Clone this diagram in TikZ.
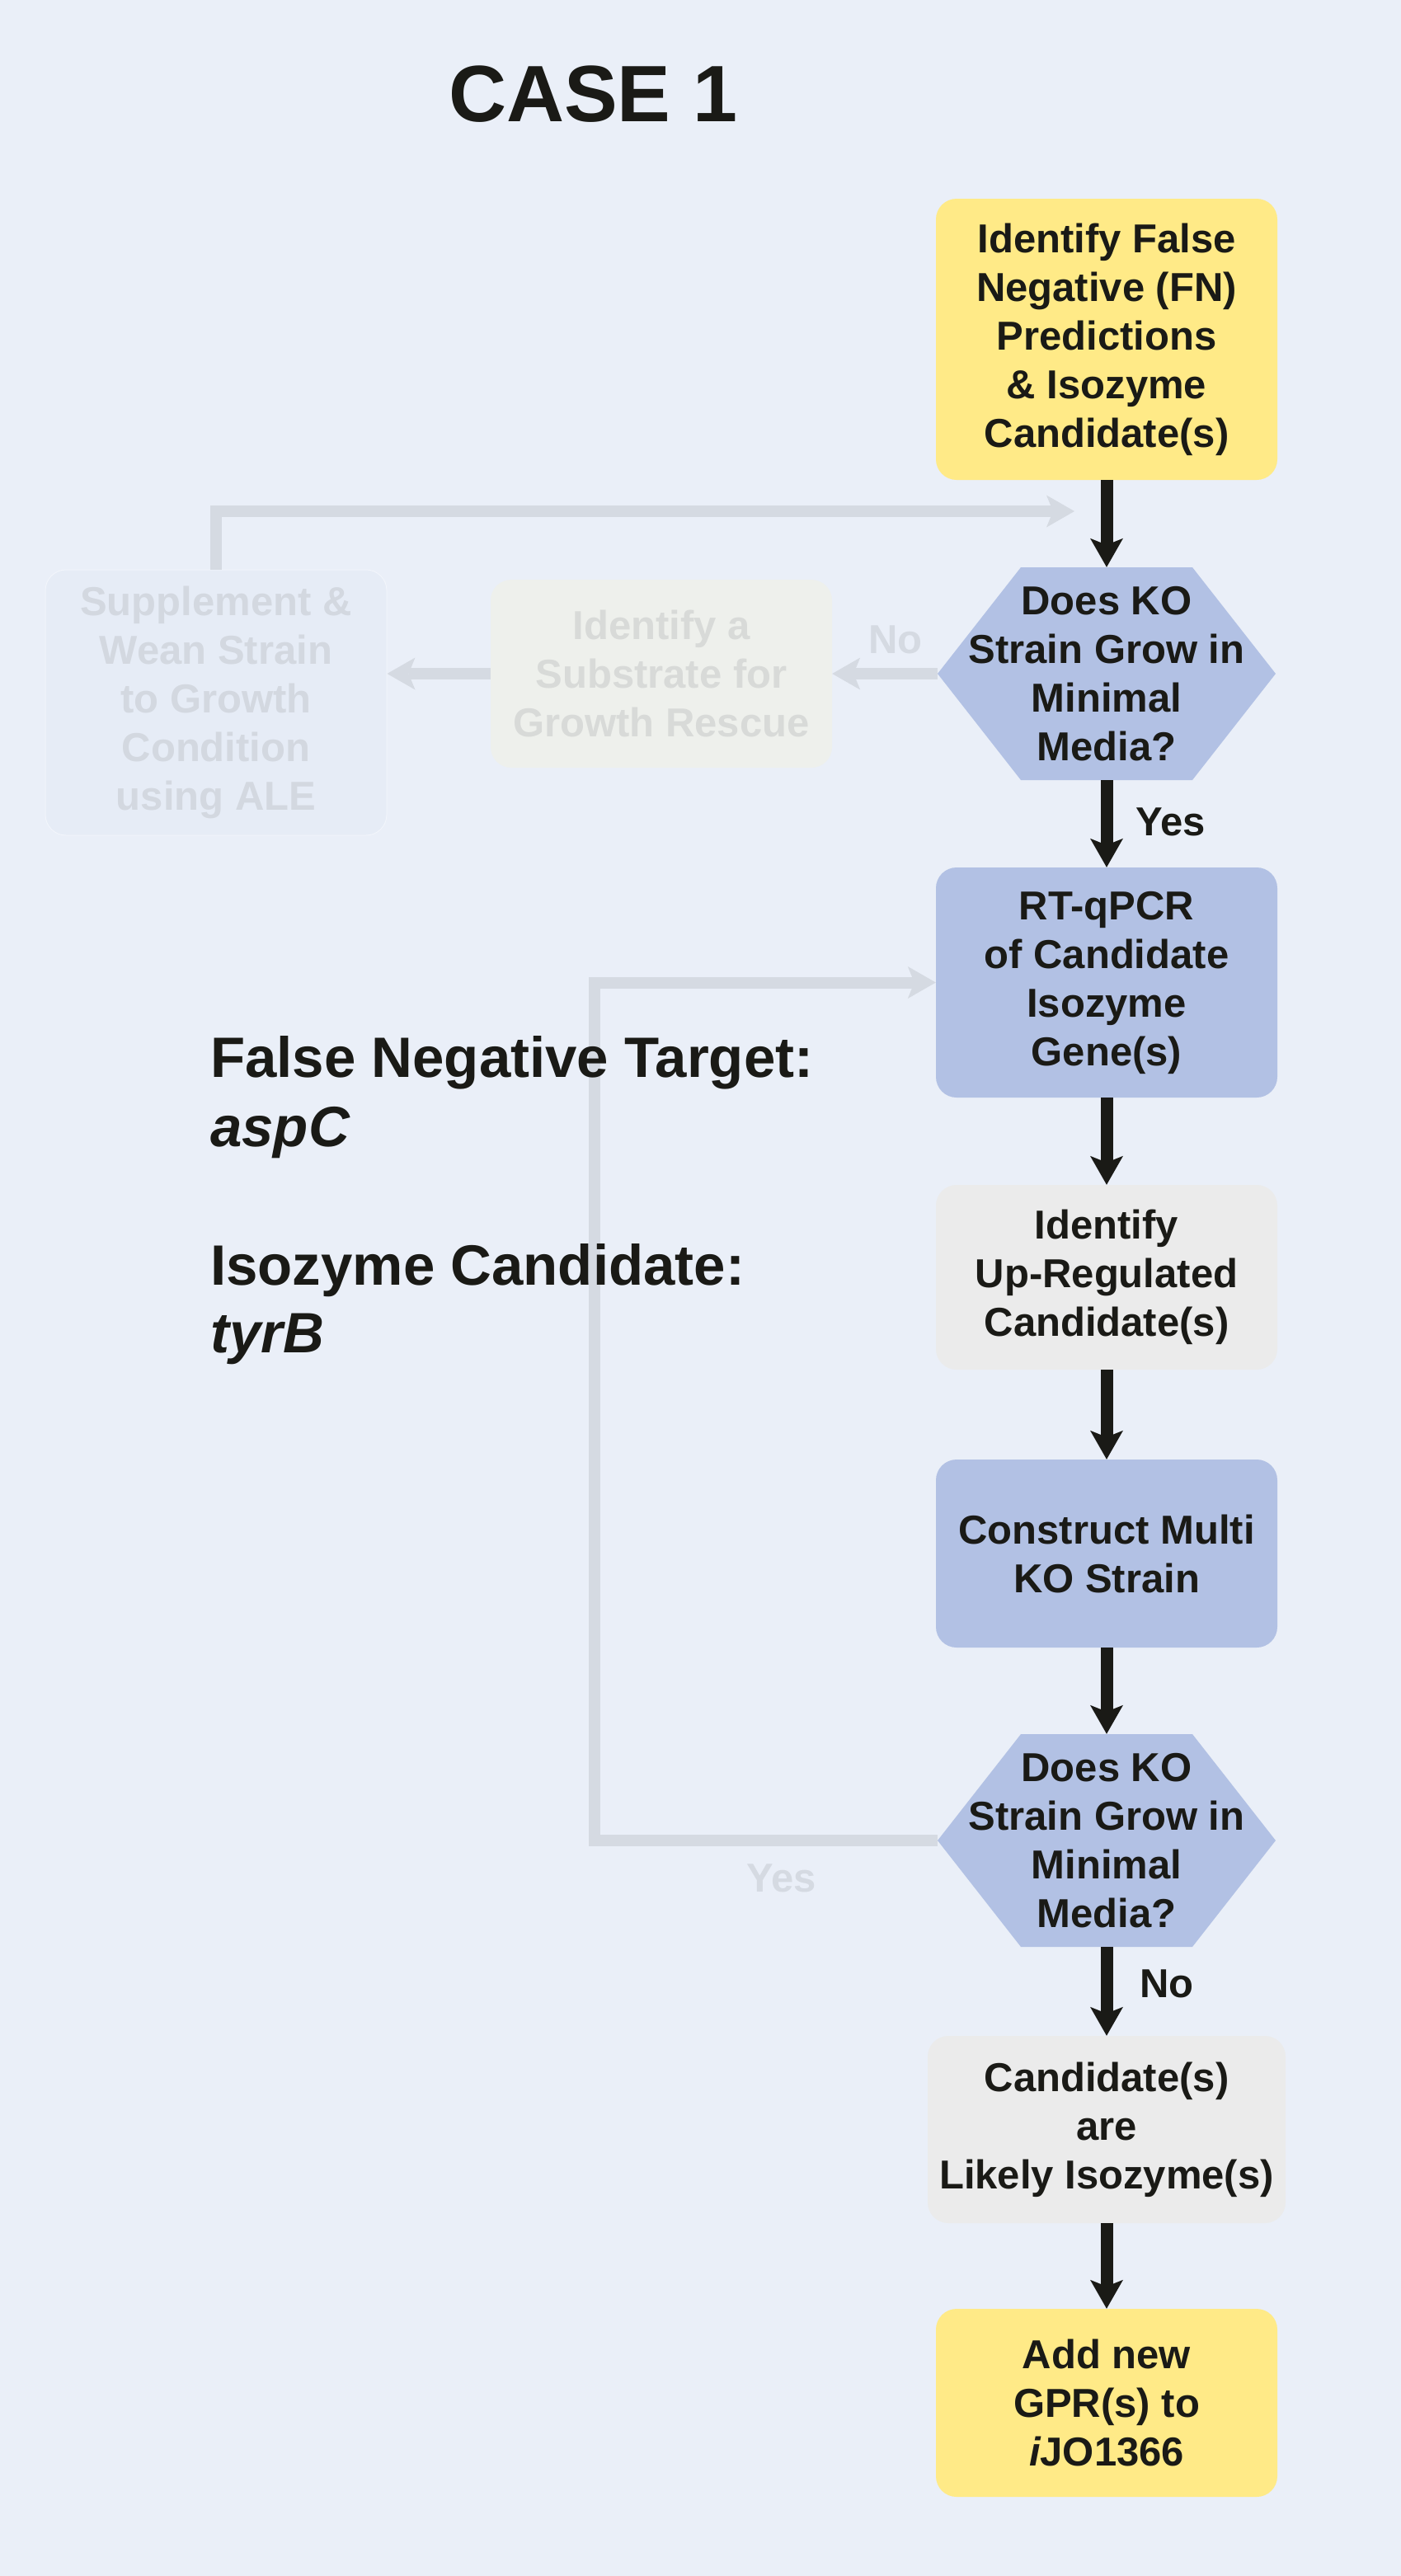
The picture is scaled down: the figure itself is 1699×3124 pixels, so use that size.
\documentclass[tikz,border=0pt]{standalone}
\usepackage{fontspec}
\setmainfont{Liberation Sans}
\usetikzlibrary{arrows.meta,calc}
\definecolor{bgc}{RGB}{234,239,248}
\definecolor{kyellow}{RGB}{255,234,135}
\definecolor{kblue}{RGB}{178,193,228}
\definecolor{kgray}{RGB}{235,235,235}
\definecolor{ktext}{RGB}{26,26,22}
\definecolor{gline}{RGB}{213,218,226}
\definecolor{suptext}{RGB}{211,216,224}
\definecolor{supfill}{RGB}{230,236,246}
\definecolor{subfill}{RGB}{238,240,236}
\definecolor{subtext}{RGB}{216,218,216}
\begin{document}
\begin{tikzpicture}[x=1pt,y=-1pt,
  txt/.style={font=\fontsize{49}{59}\selectfont\bfseries, text=ktext, align=center, inner sep=0pt},
  bigtxt/.style={font=\fontsize{69}{80}\selectfont\bfseries, text=ktext, inner sep=0pt, anchor=base west},
  box/.style={txt, rounded corners=25pt, minimum width=414pt},
  hexbox/.style={txt, minimum width=410pt, minimum height=258pt,
    path picture={\fill[kblue] (path picture bounding box.west)
      -- ([xshift=101pt]path picture bounding box.north west)
      -- ([xshift=-101pt]path picture bounding box.north east)
      -- (path picture bounding box.east)
      -- ([xshift=-101pt]path picture bounding box.south east)
      -- ([xshift=101pt]path picture bounding box.south west) -- cycle;}},
  darrow/.style={draw=ktext, line width=15pt, -{Stealth[length=35pt,width=40pt,inset=8pt,line width=0pt]}},
  garrow/.style={draw=gline, line width=14pt, -{Stealth[length=34pt,width=39pt,inset=8pt,line width=0pt]}},
  lbl/.style={font=\fontsize{49}{59}\selectfont\bfseries, text=ktext, inner sep=0pt, anchor=base west},
  flbl/.style={lbl, text=gline}
]
\fill[bgc] (0,0) rectangle (1699,3124);
\useasboundingbox (0,0) rectangle (1699,3124);

% title
\node[font=\fontsize{97}{110}\selectfont\bfseries, text=ktext, inner sep=0pt, anchor=base west] (title) at (544,147) {CASE 1};

% main column
\node[box, fill=kyellow, minimum height=341pt] (b1) at (1342,411.5)
  {Identify False\\Negative (FN)\\Predictions\\\& Isozyme\\Candidate(s)};
\node[hexbox] (hex1) at (1342,817) {Does KO\\Strain Grow in\\Minimal\\Media?};
\node[box, fill=kblue, minimum height=279pt] (rt) at (1342,1191.5)
  {RT-qPCR\\of Candidate\\Isozyme\\Gene(s)};
\node[box, fill=kgray, minimum height=224pt] (up) at (1342,1549)
  {Identify\\Up-Regulated\\Candidate(s)};
\node[box, fill=kblue, minimum height=228pt] (con) at (1342,1884)
  {Construct Multi\\KO Strain};
\node[hexbox] (hex2) at (1342,2232) {Does KO\\Strain Grow in\\Minimal\\Media?};
\node[box, fill=kgray, minimum width=434pt, minimum height=227pt] (cand) at (1342,2582.5)
  {Candidate(s)\\are\\Likely Isozyme(s)};
\node[box, fill=kyellow, minimum height=228pt] (add) at (1342,2914)
  {Add new\\GPR(s) to\\{\itshape i}JO1366};

% faded branch
\node[box, fill=subfill, text=subtext, minimum height=228pt] (sub) at (802,817)
  {Identify a\\Substrate for\\Growth Rescue};
\node[box, fill=supfill, draw=bgc!60!white, line width=1pt, text=suptext, minimum height=322pt] (sup) at (262,852)
  {Supplement \&\\Wean Strain\\to Growth\\Condition\\using ALE};

% dark arrows
\draw[darrow] (b1.south) -- (hex1.north);
\draw[darrow] (hex1.south) -- (rt.north);
\draw[darrow] (rt.south) -- (up.north);
\draw[darrow] (up.south) -- (con.north);
\draw[darrow] (con.south) -- (hex2.north);
\draw[darrow] (hex2.south) -- (cand.north);
\draw[darrow] (cand.south) -- (add.north);
\node[lbl] (yes1) at (1377,1013) {Yes};
\node[lbl] (no2) at (1382,2422) {No};

% gray connectors
\coordinate (tipA) at (1303,620);
\coordinate (loopc) at (721,2232);
\draw[garrow] (hex1.west) -- (sub.east);
\draw[garrow] (sub.west) -- (sub.west -| sup.east);
\draw[garrow] (sup.north) |- (tipA);
\draw[garrow] (hex2.west) -- (loopc) |- (rt.west);
\node[flbl] (no1) at (1053,792) {No};
\node[flbl] (yes2) at (905,2294) {Yes};

% side text (drawn over the gray loop)
\node[bigtxt] (fnt) at (255,1306) {False Negative Target:};
\node[bigtxt, font=\fontsize{69}{80}\selectfont\bfseries\itshape] (aspc) at (255,1390) {aspC};
\node[bigtxt] (isc) at (255,1558) {Isozyme Candidate:};
\node[bigtxt, font=\fontsize{69}{80}\selectfont\bfseries\itshape] (tyrb) at (255,1640) {tyrB};
\end{tikzpicture}
\end{document}
